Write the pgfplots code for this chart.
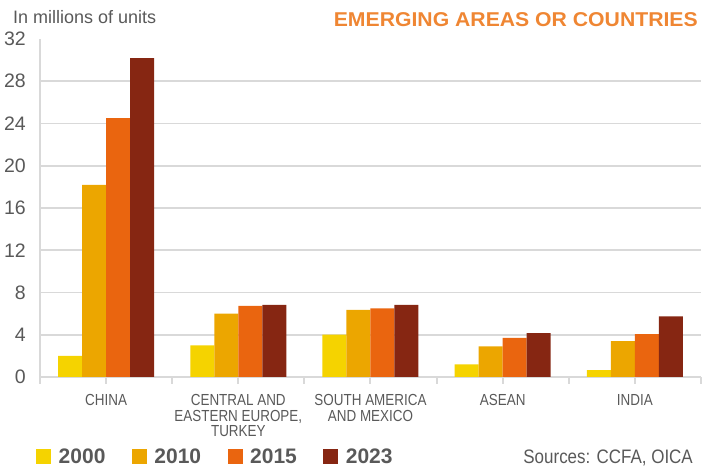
\documentclass[border=0pt]{standalone}
\usepackage{fontspec}
\setmainfont{Liberation Sans}
\newfontfamily\narrowfont{Liberation Sans}[FakeStretch=0.84]
\newfontfamily\sourcefont{Liberation Sans}[FakeStretch=0.87]
\newfontfamily\widefont{Liberation Sans}[FakeStretch=1.06]
\usepackage{pgfplots}
\pgfplotsset{compat=1.18}
\definecolor{cA}{HTML}{F5D300}
\definecolor{cB}{HTML}{ECA600}
\definecolor{cC}{HTML}{EA650F}
\definecolor{cD}{HTML}{862612}
\definecolor{gridgray}{HTML}{D9D9D9}
\definecolor{txt}{HTML}{595959}
\definecolor{ttl}{HTML}{EF8633}
\begin{document}
\begin{tikzpicture}[x=1pt,y=1pt]
\path[use as bounding box] (0,0) rectangle (713,470);
\begin{axis}[
  at={(40pt,93pt)}, anchor=south west,
  scale only axis, width=661pt, height=338pt,
  xmin=-0.5, xmax=4.5, ymin=0, ymax=32,
  axis x line*=bottom, axis y line*=left,
  axis line style={draw=gridgray, line width=2pt, -},
  ybar=0pt, bar width=24pt,
  ytick={0,4,...,28}, extra y ticks={32}, extra y tick style={grid=none},
  ymajorgrids, grid style={draw=gridgray, line width=1.8pt},
  y tick style={draw=none},
  /pgf/number format/assume math mode=true,
  yticklabel style={font=\fontsize{19.5}{19.5}\selectfont, text=txt, anchor=east, inner sep=0pt, xshift=-7pt},
  xtick={-0.5,0.5,...,4.5}, xticklabels={,,,,,},
  tick align=outside, major tick length=7pt,
  x tick style={draw=gridgray, line width=2pt},
  extra x ticks={0,1,2,3,4},
  extra x tick labels={CHINA,{CENTRAL AND\\EASTERN EUROPE,\\TURKEY},{SOUTH AMERICA\\AND MEXICO},ASEAN,INDIA},
  extra x tick style={tick style={draw=none}, grid=none,
    xticklabel style={align=center, font=\narrowfont\fontsize{16}{15.8}\selectfont, text=txt, anchor=north, inner sep=0pt, yshift=-10pt}},
  legend columns=4,
  legend image code/.code={\fill[#1] (0pt,-7.5pt) rectangle (15pt,7.5pt);},
  legend style={draw=none, fill=none, inner sep=0pt,
    font=\bfseries\fontsize{21}{21}\selectfont, text=txt,
    at={(-0.006,-0.235)}, anchor=west,
    nodes={inner sep=0pt},
    /tikz/every odd column/.append style={column sep=7.5pt},
    /tikz/every even column/.append style={column sep=26.5pt}},
]
\addplot[fill=cA, draw=none] coordinates {(0,2.0) (1,3.0) (2,4.0) (3,1.2) (4,0.64)};
\addlegendentry{2000}
\addplot[fill=cB, draw=none] coordinates {(0,18.2) (1,6.0) (2,6.35) (3,2.9) (4,3.4)};
\addlegendentry{2010}
\addplot[fill=cC, draw=none] coordinates {(0,24.5) (1,6.73) (2,6.5) (3,3.7) (4,4.07)};
\addlegendentry{2015}
\addplot[fill=cD, draw=none] coordinates {(0,30.2) (1,6.83) (2,6.83) (3,4.15) (4,5.75)};
\addlegendentry{2023}
\end{axis}
\node[anchor=base west, inner sep=0pt, text=txt, font=\fontsize{18}{18}\selectfont] at (13,446) {In millions of units};
\node[anchor=base east, inner sep=0pt, text=ttl, font=\widefont\bfseries\fontsize{20}{20}\selectfont] at (698,443.5) {EMERGING AREAS OR COUNTRIES};
\node[anchor=base east, inner sep=0pt, text=txt, font=\sourcefont\fontsize{19.5}{19.5}\selectfont] at (693,6) {Sources: CCFA, OICA};
\end{tikzpicture}
\end{document}
